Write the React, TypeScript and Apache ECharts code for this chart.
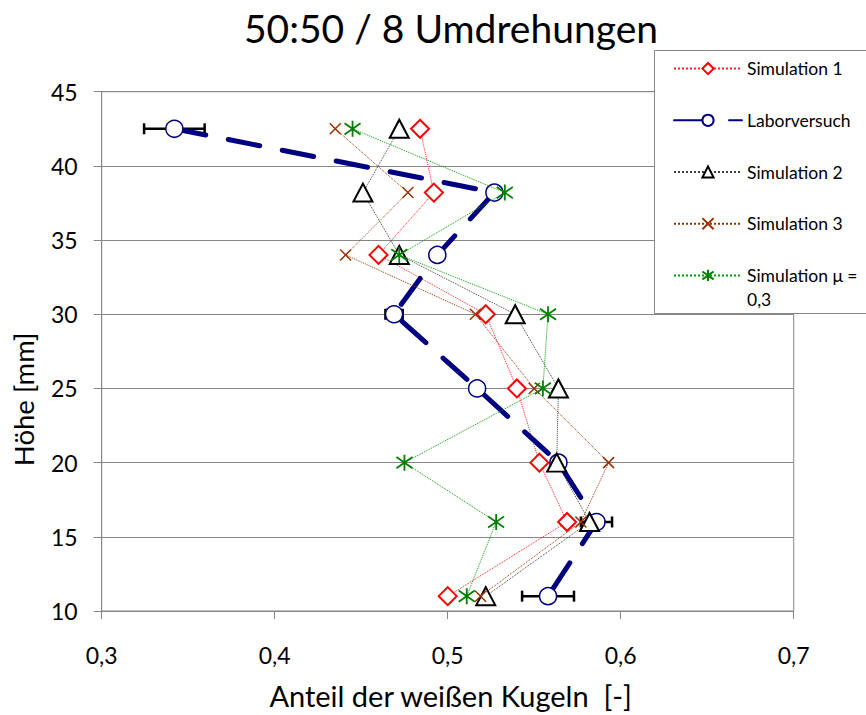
import React, { useEffect, useRef } from 'react';
import * as echarts from 'echarts';

// Heights (y) in mm
const heights = [42.5, 38.2, 34, 30, 25, 20, 16, 11];
// Share of white balls (x) per series
const sim1 = [0.484, 0.492, 0.46, 0.522, 0.54, 0.553, 0.569, 0.5];
const labor = [0.342, 0.527, 0.494, 0.469, 0.517, 0.564, 0.586, 0.558];
const laborErr = [0.0175, 0, 0, 0.005, 0, 0, 0.009, 0.015];
const sim2 = [0.472, 0.451, 0.472, 0.539, 0.564, 0.563, 0.582, 0.522];
const sim3 = [0.435, 0.477, 0.441, 0.516, 0.55, 0.593, 0.577, 0.519];
const simMu = [0.445, 0.533, 0.472, 0.558, 0.555, 0.475, 0.528, 0.511];

const seriesNames = ['Simulation 1', 'Laborversuch', 'Simulation 2', 'Simulation 3', 'Simulation μ = 0,3'];
const title = '50:50 / 8 Umdrehungen';
const xName = 'Anteil der weißen Kugeln  [-]';
const yName = 'Höhe [mm]';

const FONT = 'Lato';
const GRID = '#878787';

const pairs = (xs: number[]) => xs.map((x, i) => [x, heights[i]]);

export default function App() {
  const ref = useRef<HTMLDivElement>(null);
  useEffect(() => {
    if (!ref.current) return;
    const chart = echarts.init(ref.current, null, { renderer: 'svg' });
    const errData = labor
      .map((x, i) => [x, heights[i], laborErr[i]])
      .filter((d) => d[2] > 0);
    const thin = (color: string) => ({ color, width: 1, type: 'dotted' as const });
    const option: any = {
      animation: false,
      backgroundColor: '#fff',
      textStyle: { fontFamily: FONT },
      grid: {
        left: 101.7,
        right: 72.3,
        top: 91.7,
        bottom: 103.3,
        show: true,
        borderColor: GRID,
        borderWidth: 1,
        backgroundColor: 'transparent',
      },
      xAxis: {
        type: 'value',
        min: 0.3,
        max: 0.7,
        interval: 0.1,
        name: xName,
        nameLocation: 'middle',
        nameGap: 70,
        nameTextStyle: { fontFamily: FONT, fontSize: 29, color: '#000', padding: [0, 0, 0, 6] },
        axisLine: { show: true, lineStyle: { color: GRID, width: 1 } },
        axisTick: { show: true, length: 8, lineStyle: { color: GRID, width: 1 } },
        axisLabel: {
          fontFamily: FONT,
          fontSize: 23,
          color: '#000',
          margin: 32,
          formatter: (v: number) => v.toFixed(1).replace('.', ','),
        },
        splitLine: { show: false },
      },
      yAxis: {
        type: 'value',
        min: 10,
        max: 45,
        interval: 5,
        name: yName,
        nameLocation: 'middle',
        nameGap: 64,
        nameRotate: 90,
        nameTextStyle: { fontFamily: FONT, fontSize: 27.5, color: '#000', padding: [0, 96, 0, 0] },
        axisLine: { show: true, lineStyle: { color: GRID, width: 1 } },
        axisTick: { show: true, length: 8, lineStyle: { color: GRID, width: 1 } },
        axisLabel: { fontFamily: FONT, fontSize: 23, color: '#000', margin: 24 },
        splitLine: { show: true, lineStyle: { color: GRID, width: 1 } },
      },
      graphic: [
        {
          type: 'text',
          x: 451,
          y: 28,
          z: 10,
          style: {
            text: title,
            font: `39px ${FONT}`,
            fill: '#000',
            textAlign: 'center',
            textVerticalAlign: 'middle',
          },
        },
        {
          type: 'rect',
          z: 10,
          shape: { x: 654.5, y: 50.5, width: 230, height: 263 },
          style: { fill: '#fff', stroke: GRID, lineWidth: 1 },
        },
        {
          type: 'text',
          x: 747,
          y: 299,
          z: 30,
          style: {
            text: '0,3',
            font: `17.5px ${FONT}`,
            fill: '#000',
            textAlign: 'left',
            textVerticalAlign: 'middle',
          },
        },
      ],
      legend: {
        z: 20,
        orient: 'vertical',
        left: 673,
        top: 59.6,
        padding: 0,
        itemWidth: 68,
        itemHeight: 14,
        itemGap: 33.7,
        textStyle: { fontFamily: FONT, fontSize: 17.5, color: '#000', lineHeight: 14 },
        formatter: (n: string) => (n === 'Simulation μ = 0,3' ? 'Simulation μ =' : n),
        data: seriesNames,
      },
      series: [
        {
          type: 'custom',
          name: 'err',
          z: 1,
          data: errData,
          renderItem: (params: any, api: any) => {
            const x = api.value(0);
            const y = api.value(1);
            const e = api.value(2);
            const p1 = api.coord([x - e, y]);
            const p2 = api.coord([x + e, y]);
            const h = 5.5;
            const st = { stroke: '#000', lineWidth: 2.5 };
            return {
              type: 'group',
              children: [
                { type: 'line', shape: { x1: p1[0], y1: p1[1], x2: p2[0], y2: p2[1] }, style: st },
                { type: 'line', shape: { x1: p1[0], y1: p1[1] - h, x2: p1[0], y2: p1[1] + h }, style: st },
                { type: 'line', shape: { x1: p2[0], y1: p2[1] - h, x2: p2[0], y2: p2[1] + h }, style: st },
              ],
            };
          },
        },
        {
          type: 'line',
          name: seriesNames[0],
          data: pairs(sim1),
          symbol: 'diamond',
          symbolSize: 18,
          lineStyle: thin('#FF2020'),
          itemStyle: { color: '#fff', borderColor: '#FF0000', borderWidth: 2 },
          z: 3,
        },
        {
          type: 'line',
          name: seriesNames[1],
          data: pairs(labor),
          symbol: 'circle',
          symbolSize: 17,
          lineStyle: { color: '#000080', width: 5, type: [32, 23], cap: 'round' },
          itemStyle: { color: '#fff', borderColor: '#000080', borderWidth: 1.5 },
          z: 4,
        },
        {
          type: 'line',
          name: seriesNames[2],
          data: pairs(sim2),
          symbol: 'triangle',
          symbolSize: [19, 18],
          lineStyle: thin('#404040'),
          itemStyle: { color: '#fff', borderColor: '#000', borderWidth: 2 },
          z: 5,
        },
        {
          type: 'line',
          name: seriesNames[3],
          data: pairs(sim3),
          symbol: 'path://M0,0L10,10M10,0L0,10',
          symbolSize: 11,
          lineStyle: thin('#993300'),
          itemStyle: { color: 'none', borderColor: '#993300', borderWidth: 1.5 },
          z: 6,
        },
        {
          type: 'line',
          name: seriesNames[4],
          data: pairs(simMu),
          symbol: 'path://M5,0L5,10M0,1.5L10,8.5M10,1.5L0,8.5',
          symbolSize: 16,
          lineStyle: thin('#00A000'),
          itemStyle: { color: 'none', borderColor: '#008000', borderWidth: 1.8 },
          z: 7,
        },
      ],
    };
    chart.setOption(option);
    return () => chart.dispose();
  }, []);
  return <div ref={ref} style={{ position: 'absolute', left: 0, top: 0, width: 866, height: 715 }} />;
}
